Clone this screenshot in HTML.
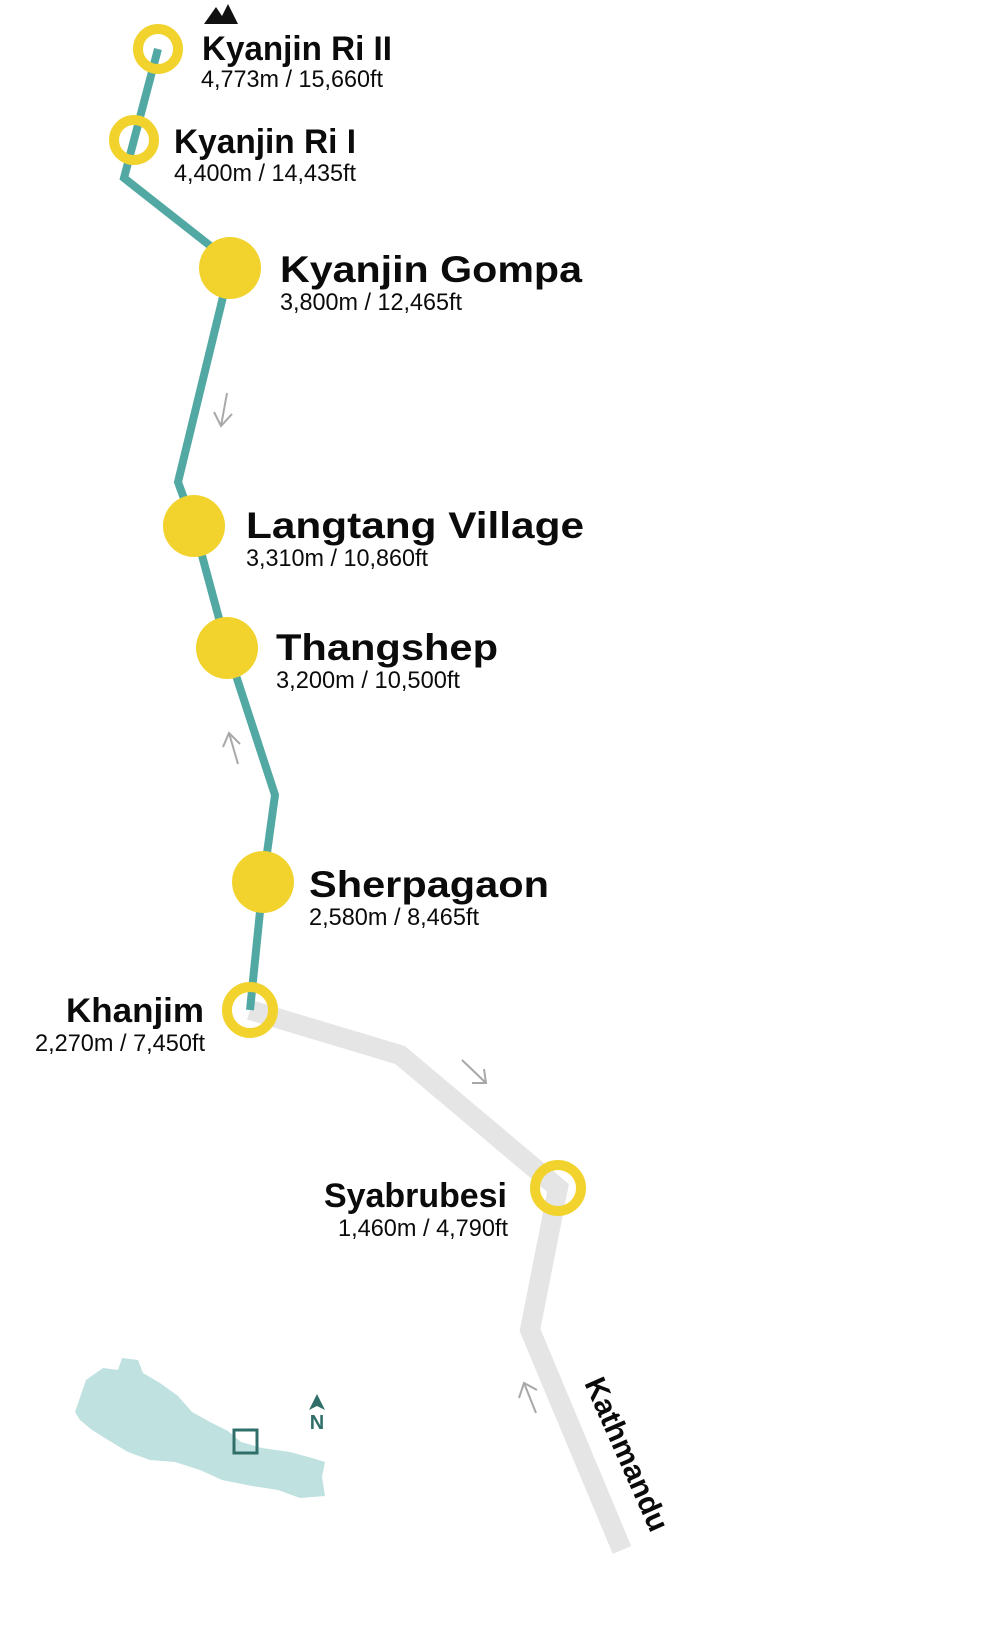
<!DOCTYPE html>
<html><head><meta charset="utf-8"><style>
html,body{margin:0;padding:0;background:#fff}
svg{display:block}
.t{font-family:"Liberation Sans",sans-serif;font-weight:bold;fill:#0b0b0b}
.s{font-family:"Liberation Sans",sans-serif;fill:#0b0b0b}
</style></head><body>
<svg width="990" height="1626" viewBox="0 0 990 1626" xmlns="http://www.w3.org/2000/svg">
<polyline points="250,1010 400,1055 558,1188 530,1330 622,1550" fill="none" stroke="#e4e5e4" stroke-width="20" stroke-linejoin="miter"/>
<polyline points="158,49 134,140 124,178 213,248 230,268 178,482 194,526 227,648 275,795 263,882 250,1010" fill="none" stroke="#52a8a3" stroke-width="8" stroke-linejoin="miter"/>
<g fill="none" stroke="#a8a8a8" stroke-width="2">
<path d="M227,393 L221,426 M214,412 L221,426 L232,414"/>
<path d="M238,764 L229,733 M223,747 L229,733 L240,744"/>
<path d="M462,1060 L486,1083 M472,1083 L486,1083 L484,1069"/>
<path d="M536,1413 L524,1383 M519,1398 L524,1383 L537,1390"/>
</g>
<g fill="none" stroke="#f2d32e" stroke-width="10">
<circle cx="158" cy="49" r="20"/>
<circle cx="134" cy="140" r="20"/>
<circle cx="250" cy="1010" r="23"/>
<circle cx="558" cy="1188" r="23"/>
</g>
<g fill="#f2d32e">
<circle cx="230" cy="268" r="31"/>
<circle cx="194" cy="526" r="31"/>
<circle cx="227" cy="648" r="31"/>
<circle cx="263" cy="882" r="31"/>
</g>
<path d="M204,24 L216,7 L222,16 L228,4 L238,24 Z" fill="#111"/>
<text class="t" x="202" y="60" font-size="34" textLength="190" lengthAdjust="spacingAndGlyphs">Kyanjin Ri II</text>
<text class="s" x="201" y="87" font-size="24" textLength="182" lengthAdjust="spacingAndGlyphs">4,773m / 15,660ft</text>
<text class="t" x="174" y="153" font-size="34" textLength="182" lengthAdjust="spacingAndGlyphs">Kyanjin Ri I</text>
<text class="s" x="174" y="181" font-size="24" textLength="182" lengthAdjust="spacingAndGlyphs">4,400m / 14,435ft</text>
<text class="t" x="280" y="282" font-size="37" textLength="302" lengthAdjust="spacingAndGlyphs">Kyanjin Gompa</text>
<text class="s" x="280" y="310" font-size="24" textLength="182" lengthAdjust="spacingAndGlyphs">3,800m / 12,465ft</text>
<text class="t" x="246" y="538" font-size="37" textLength="338" lengthAdjust="spacingAndGlyphs">Langtang Village</text>
<text class="s" x="246" y="566" font-size="24" textLength="182" lengthAdjust="spacingAndGlyphs">3,310m / 10,860ft</text>
<text class="t" x="276" y="660" font-size="37" textLength="222" lengthAdjust="spacingAndGlyphs">Thangshep</text>
<text class="s" x="276" y="688" font-size="24" textLength="184" lengthAdjust="spacingAndGlyphs">3,200m / 10,500ft</text>
<text class="t" x="309" y="897" font-size="37" textLength="240" lengthAdjust="spacingAndGlyphs">Sherpagaon</text>
<text class="s" x="309" y="925" font-size="24" textLength="170" lengthAdjust="spacingAndGlyphs">2,580m / 8,465ft</text>
<text class="t" x="66" y="1022" font-size="34" textLength="138" lengthAdjust="spacingAndGlyphs">Khanjim</text>
<text class="s" x="35" y="1051" font-size="24" textLength="170" lengthAdjust="spacingAndGlyphs">2,270m / 7,450ft</text>
<text class="t" x="324" y="1207" font-size="34" textLength="183" lengthAdjust="spacingAndGlyphs">Syabrubesi</text>
<text class="s" x="338" y="1236" font-size="24" textLength="170" lengthAdjust="spacingAndGlyphs">1,460m / 4,790ft</text>
<text class="t" font-size="30" textLength="165" lengthAdjust="spacingAndGlyphs" transform="translate(584,1383) rotate(66)">Kathmandu</text>
<path d="M75,1412 L86,1380 L103,1368 L118,1370 L122,1358 L138,1360 L143,1373 L160,1383 L178,1396 L192,1412 L210,1422 L228,1431 L241,1442 L262,1448 L290,1452 L312,1458 L325,1462 L322,1477 L325,1496 L300,1498 L278,1490 L252,1486 L222,1480 L200,1470 L175,1462 L150,1460 L128,1452 L108,1440 L92,1430 L80,1420 Z" fill="#bfe1e0"/>
<rect x="234" y="1430" width="23" height="23" fill="none" stroke="#306f69" stroke-width="3"/>
<path d="M317,1394 L309,1410 L317,1406 L325,1410 Z" fill="#306f69"/>
<text x="317" y="1429" font-family="Liberation Sans,sans-serif" font-weight="bold" font-size="20" fill="#306f69" text-anchor="middle">N</text>
</svg>
</body></html>
